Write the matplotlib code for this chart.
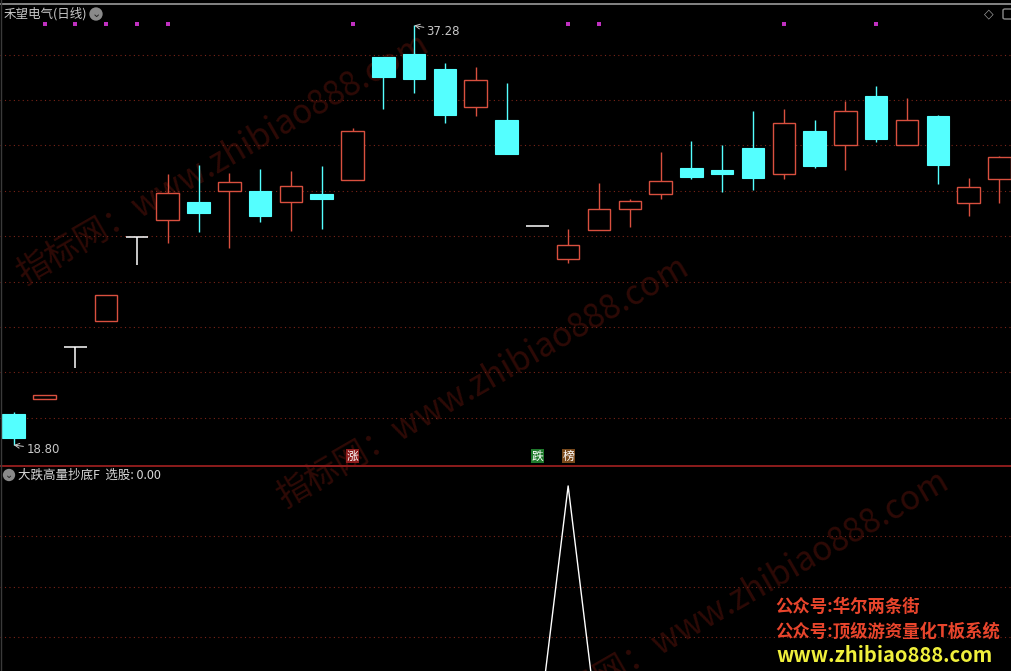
import matplotlib
matplotlib.use("Agg")
import matplotlib.pyplot as plt
from matplotlib.lines import Line2D
from matplotlib.patches import FancyBboxPatch
import numpy as np

plt.rcParams['font.family'] = ['Noto Sans CJK SC', 'DejaVu Sans']

# daily k-line data (prices)
opens = [20.15, 20.84, 23.10, 24.28, 27.95, 28.73, 29.51, 29.98, 29.99, 29.49, 29.86,
         30.49, 35.89, 36.02, 35.36, 33.70, 33.12, 28.43, 26.98, 28.28, 29.18, 29.84,
         31.00, 30.91, 31.88, 30.73, 32.63, 32.00, 34.16, 32.00, 33.28, 29.45, 30.51]
highs = [20.24, 21.00, 23.10, 25.41, 27.95, 30.74, 31.14, 30.77, 30.95, 30.87, 31.09,
         32.77, 35.89, 37.28, 35.63, 35.45, 34.75, 28.43, 28.32, 30.34, 29.64, 31.69,
         32.18, 32.00, 33.51, 33.60, 33.12, 33.95, 34.61, 34.09, 33.32, 30.55, 31.53]
lows = [18.80, 20.84, 22.21, 24.28, 26.73, 27.71, 28.20, 27.49, 28.64, 28.24, 28.32,
        30.49, 33.62, 34.32, 33.00, 33.31, 31.62, 28.43, 26.83, 28.28, 28.42, 29.65,
        30.52, 29.96, 30.05, 30.53, 31.00, 30.93, 32.16, 32.00, 30.31, 28.90, 29.47]
closes = [19.10, 21.00, 23.10, 25.41, 27.95, 29.89, 29.03, 30.37, 28.90, 30.20, 29.65,
          32.63, 35.01, 34.92, 33.35, 34.88, 31.62, 28.43, 27.60, 29.18, 29.55, 30.42,
          30.62, 30.75, 30.58, 32.97, 31.10, 33.50, 32.29, 33.10, 31.15, 30.15, 31.49]

# purple signal dots along the top of the price panel
dot_idx = [1, 2, 3, 4, 5, 11, 18, 19, 25, 28]

# indicator 大跌高量抄底F
signal = [0] * 33
signal[18] = 1

# small tag boxes above the divider
tags = [(11, '涨', '#8e1c1c'), (17, '跌', '#1f7a2c'), (18, '榜', '#7a4a1c')]

grid_prices = [20, 22, 24, 26, 28, 30, 32, 34, 36]
grid_sig = [0.4, 0.6, 0.8]

RED = '#d9503f'
CYAN = '#54ffff'
GRID = '#7a2418'

fig = plt.figure(figsize=(10.12, 6.71), dpi=100, facecolor='black')
ax = fig.add_axes([0, 205 / 671, 1, 462 / 671])
ax2 = fig.add_axes([0, 0, 1, 205 / 671])

n = len(opens)
x = np.arange(n)
for a in (ax, ax2):
    a.set_zorder(2)
    a.patch.set_visible(False)   # let the watermark (figure level) show through
    a.set_xlim(-0.445, 32.41)
    for s in a.spines.values():
        s.set_visible(False)
    a.set_xticks([])
    a.set_yticks([])

ax.set_ylim(17.875, 38.227)
ax2.set_ylim(0.267, 1.079)

for g in grid_prices:
    ax.axhline(g, color=GRID, lw=0.8, ls=(0, (1, 3)), zorder=0)
for g in grid_sig:
    ax2.axhline(g, color=GRID, lw=0.8, ls=(0, (1, 3)), zorder=0)

w = 0.73
for i in range(n):
    o, h, l, c = opens[i], highs[i], lows[i], closes[i]
    top, bot = max(o, c), min(o, c)
    if abs(c - o) < 1e-6:
        col = 'white'
        ax.hlines(o, i - w / 2, i + w / 2, color=col, lw=1.1, zorder=3)
        ax.vlines(i, l, h, color=col, lw=1.1, zorder=3)
        continue
    if c > o:
        col = RED
        ax.bar(i, top - bot, bottom=bot, width=w, facecolor='black',
               edgecolor=col, linewidth=1.0, zorder=3)
    else:
        col = CYAN
        ax.bar(i, top - bot, bottom=bot, width=w, facecolor=col,
               edgecolor=col, linewidth=0.8, zorder=3)
    if h > top:
        ax.vlines(i, top, h, color=col, lw=1.0, zorder=2)
    if l < bot:
        ax.vlines(i, l, bot, color=col, lw=1.0, zorder=2)

# high / low marks
hi = int(np.argmax(highs))
lo = int(np.argmin(lows))
ax.annotate(f'{highs[hi]:.2f}', xy=(hi, highs[hi]), xytext=(9, -4),
            textcoords='offset points', color='#c8c8c8', fontsize=8.5,
            family='DejaVu Sans', va='center', ha='left',
            arrowprops=dict(arrowstyle='->', color='#c8c8c8', lw=0.7,
                            shrinkA=0, shrinkB=0))
ax.annotate(f'{lows[lo]:.2f}', xy=(lo, lows[lo]), xytext=(9, -3),
            textcoords='offset points', color='#c8c8c8', fontsize=8.5,
            family='DejaVu Sans', va='center', ha='left',
            arrowprops=dict(arrowstyle='->', color='#c8c8c8', lw=0.7,
                            shrinkA=0, shrinkB=0))

# signal dots
ax.scatter(dot_idx, [37.35] * len(dot_idx), marker='s', s=7, color='#c030c0',
           linewidths=0, zorder=4)

# indicator line
ax2.plot(x, signal, color='white', lw=1.0, zorder=3)

# watermarks (behind the axes)
wm = '指标网：www.zhibiao888.com'
for (wx, wy) in [(25, 285), (285, 508), (545, 722)]:
    fig.text(wx / 1012, 1 - wy / 671, wm, rotation=30, rotation_mode='anchor',
             color='#2e0a06', fontsize=24, ha='left', va='baseline', zorder=0)

# titles
fig.text(4 / 1012, 1 - 14 / 671, '禾望电气(日线)', color='#c8c8c8', fontsize=9,
         va='center', ha='left', zorder=5)
fig.text(96 / 1012, 1 - 14 / 671, '⌄', color='#202020', fontsize=8, va='center',
         ha='center', zorder=5,
         bbox=dict(boxstyle='circle,pad=0.15', fc='#8a8a8a', ec='none'))
fig.text(18 / 1012, 1 - 475 / 671, '大跌高量抄底F  选股: 0.00', color='#d8d8d8',
         fontsize=9, va='center', ha='left', zorder=5)
fig.text(9 / 1012, 1 - 475 / 671, '⌄', color='#202020', fontsize=7, va='center',
         ha='center', zorder=5,
         bbox=dict(boxstyle='circle,pad=0.12', fc='#8a8a8a', ec='none'))
fig.text(989 / 1012, 1 - 14 / 671, '◇', color='#9a9a9a', fontsize=9, va='center',
         ha='center', family='DejaVu Sans', zorder=5)
fig.add_artist(FancyBboxPatch((1003 / 1012, 1 - 19 / 671), 14 / 1012, 10 / 671,
                              boxstyle='round,pad=0,rounding_size=0.002',
                              fc='none', ec='#8a8a8a', lw=1.0,
                              transform=fig.transFigure, zorder=5))

# tags just above the divider
for idx, t, bg in tags:
    ax.annotate(t, xy=(idx, 0), xycoords=('data', 'axes fraction'), xytext=(0, 7),
                textcoords='offset points', ha='center', va='center', color='white',
                fontsize=8.5, zorder=6,
                bbox=dict(boxstyle='square,pad=0.06', fc=bg, ec='none'))

# frame lines
fig.add_artist(Line2D([0, 1], [1 - 3.5 / 671] * 2, color='#9a9a9a', lw=1.2, zorder=5))
fig.add_artist(Line2D([0, 1], [1 - 466 / 671] * 2, color='#8c1c1c', lw=1.4, zorder=5))
fig.add_artist(Line2D([1.5 / 1012] * 2, [0, 1], color='#3a3a3a', lw=1.0, zorder=5))

# promo text bottom right
fig.text(775 / 1012, 1 - 607 / 671, '公众号:华尔两条街', color='#e8452c',
         fontsize=12.5, weight='bold', va='center', ha='left', zorder=5)
fig.text(775 / 1012, 1 - 632 / 671, '公众号:顶级游资量化T板系统', color='#e8452c',
         fontsize=12.5, weight='bold', va='center', ha='left', zorder=5)
fig.text(776 / 1012, 1 - 655 / 671, 'www.zhibiao888.com', color='#f0f03c',
         fontsize=14.5, weight='bold', va='center', ha='left', zorder=5)

fig.savefig('out.png', dpi=100, facecolor='black')
